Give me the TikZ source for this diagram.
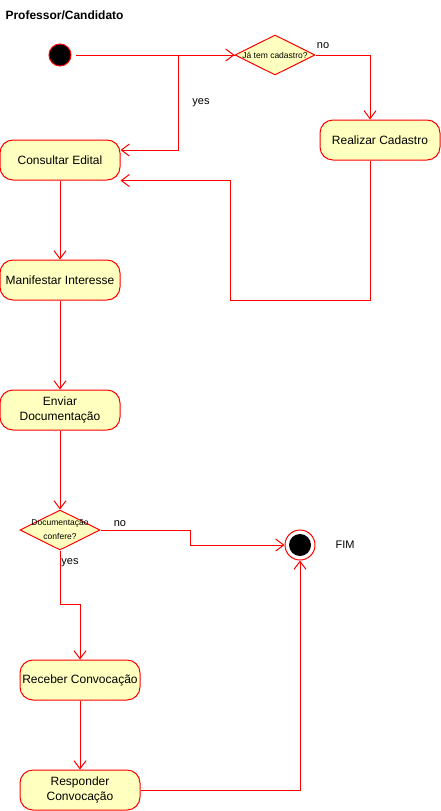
\documentclass[tikz,border=0pt]{standalone}
\usepackage{fontspec}
\setmainfont{Liberation Sans}
\usetikzlibrary{shapes.geometric,arrows.meta}
\definecolor{flowred}{HTML}{FF0000}
\definecolor{actfill}{HTML}{FFFFC0}
\tikzset{
  action/.style={draw=flowred, fill=actfill, line width=1pt, rounded corners=13pt,
    minimum width=120pt, minimum height=40pt, inner sep=0pt, align=center,
    font=\fontsize{12}{15}\selectfont},
  decision/.style={draw=flowred, fill=actfill, line width=1pt, shape=diamond, aspect=2,
    minimum width=80pt, minimum height=40pt, inner sep=0pt},
  dtext/.style={font=\fontsize{8.5}{14}\selectfont, align=center, inner sep=0pt},
  flow/.style={draw=flowred, line width=1pt, -{Straight Barb[length=8pt,width=12pt,line width=1pt]}},
  lbl/.style={font=\fontsize{11}{13}\selectfont, inner sep=0pt}
}
\begin{document}
\begin{tikzpicture}[x=1pt,y=-1pt]
  \useasboundingbox (0,0) rectangle (441,811);

  \node[anchor=west, font=\fontsize{12}{14}\selectfont\bfseries] (title) at (2,15) {Professor/Candidato};

  % start and end states
  \node[circle, fill=black, draw=flowred, line width=1pt, minimum size=22pt, inner sep=0pt] (start) at (60,55) {};
  \node[circle, draw=flowred, line width=1pt, minimum size=30pt, inner sep=0pt] (endo) at (300,545) {};
  \node[circle, fill=black, minimum size=22pt, inner sep=0pt] (endi) at (300,545) {};
  \node[lbl] (fim) at (345,545) {FIM};

  % actions and decisions (decision texts may run past the diamond edges)
  \node[decision] (d1) at (275,55) {};
  \node[dtext] (d1text) at (d1.center) {Já tem cadastro?};
  \node[action] (consult) at (60,160) {Consultar Edital};
  \node[action] (cadastro) at (380,140) {Realizar Cadastro};
  \node[action] (manif) at (60,280) {Manifestar Interesse};
  \node[action] (enviar) at (60,410) {Enviar\\Documentação};
  \node[decision] (d2) at (60,530) {};
  \node[dtext] (d2text) at ([yshift=1pt]d2.center) {Documentação\\confere?};
  \node[action] (receber) at (80,680) {Receber Convocação};
  \node[action] (responder) at (80,790) {Responder\\Convocação};

  % connectors
  \coordinate (yesturn) at (178,55);
  \coordinate (backturn) at (230,300);
  \coordinate (noturn) at (190,530);
  \coordinate (yes2turn) at (60,604);

  \draw[flow] (start.east) ++(4,0) -- (d1.west);
  \draw[flow] (d1.west) -- (yesturn) |- ([yshift=10pt]consult.east);
  \node[lbl] (yes1) at (201,103) {yes};
  \draw[flow] (d1.east) -| ([xshift=-10pt]cadastro.north);
  \node[lbl] (no1) at (323,46) {no};
  \draw[flow] ([xshift=-10pt]cadastro.south) |- (backturn) |- (consult.south east);
  \draw[flow] (consult.south) -- (manif.north);
  \draw[flow] (manif.south) -- (enviar.north);
  \draw[flow] (enviar.south) -- (d2.north);
  \draw[flow] (d2.east) -- (noturn) |- (endo.west);
  \node[lbl] (no2) at (120,524) {no};
  \draw[flow] (d2.south) -- (yes2turn) -| (receber.north);
  \node[lbl] (yes2) at (70,563) {yes};
  \draw[flow] (receber.south) -- (responder.north);
  \draw[flow] (responder.east) -| (endo.south);
\end{tikzpicture}
\end{document}
